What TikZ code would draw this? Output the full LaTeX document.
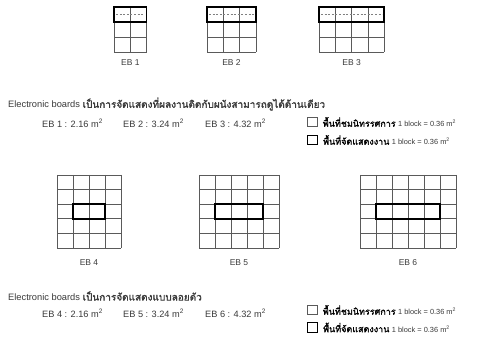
\documentclass[tikz,border=0pt]{standalone}
\usepackage{fontspec}
\setmainfont{Liberation Sans}
\newfontfamily\thaifont[Script=Thai,FakeBold=1.6]{Loma}
\definecolor{latin}{HTML}{3A3A3A}
\definecolor{gridc}{HTML}{5A5A5A}
\newcommand\drawebgrid[6]{%
  \foreach \i in {0,...,#3} \draw[gridline] ({#1+\i*#5},#2) -- ({#1+\i*#5},{#2+#4*#6});
  \foreach \j in {0,...,#4} \draw[gridline] (#1,{#2+\j*#6}) -- ({#1+#3*#5},{#2+\j*#6});
}
\tikzset{
  gridline/.style={draw=gridc, line width=0.7pt},
  thickbox/.style={draw=black, line width=1.5pt},
  dashline/.style={draw=gray, line width=0.7pt, dash pattern=on 2pt off 1.6pt},
  lbl/.style={inner sep=0pt, text=latin, font=\fontsize{8.5}{10}\selectfont},
  txt/.style={inner sep=0pt, anchor=west, text=latin, font=\fontsize{9.3}{11}\selectfont},
  eb/.style={inner sep=0pt, anchor=west, text=latin, font=\fontsize{9.2}{10}\selectfont},
  leg/.style={inner sep=0pt, anchor=west, text=black, font=\fontsize{9}{10}\selectfont},
  chk/.style={draw=gridc, line width=0.7pt, minimum width=9.5pt, minimum height=9.5pt, inner sep=0pt},
  chkthick/.style={draw=black, line width=1.4pt, minimum width=9.5pt, minimum height=9.5pt, inner sep=0pt},
}
\newcommand\thaib[1]{{\thaifont #1}}
\newcommand\thait[1]{{\fontsize{10}{11}\selectfont\thaifont #1}}
\newcommand\legsmall[1]{{\fontsize{7.4}{8}\selectfont\color{latin}#1}}
\begin{document}
\begin{tikzpicture}[x=1pt,y=-1pt]
\useasboundingbox[fill=white] (0,0) rectangle (484,339);
% ---- top grids (3 rows) ----
\drawebgrid{114}{7}{2}{3}{16.3}{15}
\drawebgrid{207}{7}{3}{3}{16.3}{15}
\drawebgrid{319}{7}{4}{3}{16.3}{15}
\draw[dashline] (116,14.5) -- (144.6,14.5);
\draw[dashline] (209,14.5) -- (253.9,14.5);
\draw[dashline] (321,14.5) -- (382.2,14.5);
\draw[thickbox] (114,7) rectangle (146.6,22);
\draw[thickbox] (207,7) rectangle (255.9,22);
\draw[thickbox] (319,7) rectangle (384.2,22);
\node[lbl] (eb1) at (130.3,63) {EB 1};
\node[lbl] (eb2) at (231.5,63) {EB 2};
\node[lbl] (eb3) at (351.6,63) {EB 3};
% ---- section 1 text ----
\node[txt] (t1) at (8,104) {Electronic boards \thait{เป็นการจัดแสดงที่ผลงานติดกับผนังสามารถดูได้ด้านเดียว}};
\node[eb] (a1) at (42,123) {EB 1 : 2.16 m\textsuperscript{2}};
\node[eb] (a2) at (123,123) {EB 2 : 3.24 m\textsuperscript{2}};
\node[eb] (a3) at (205,123) {EB 3 : 4.32 m\textsuperscript{2}};
\node[chk] (c1) at (312.5,122) {};
\node[leg] (l1) at (c1.east) {\hspace*{5pt}\thaib{พื้นที่ชมนิทรรศการ} \legsmall{1 block = 0.36 m\textsuperscript{2}}};
\node[chkthick] (c2) at (312.5,140) {};
\node[leg] (l2) at (c2.east) {\hspace*{5pt}\thaib{พื้นที่จัดแสดงงาน} \legsmall{1 block = 0.36 m\textsuperscript{2}}};
% ---- bottom grids (5 rows) ----
\drawebgrid{57}{175}{4}{5}{16}{14.6}
\drawebgrid{199}{175}{5}{5}{16}{14.6}
\drawebgrid{360}{175}{6}{5}{16}{14.6}
\draw[thickbox] (73,204.2) rectangle (105,218.8);
\draw[thickbox] (215,204.2) rectangle (263,218.8);
\draw[thickbox] (376,204.2) rectangle (440,218.8);
\node[lbl] (eb4) at (89,263) {EB 4};
\node[lbl] (eb5) at (239,263) {EB 5};
\node[lbl] (eb6) at (408,263) {EB 6};
% ---- section 2 text ----
\node[txt] (t2) at (8,296) {Electronic boards \thait{เป็นการจัดแสดงแบบลอยตัว}};
\node[eb] (b1) at (42,313) {EB 4 : 2.16 m\textsuperscript{2}};
\node[eb] (b2) at (123,313) {EB 5 : 3.24 m\textsuperscript{2}};
\node[eb] (b3) at (205,313) {EB 6 : 4.32 m\textsuperscript{2}};
\node[chk] (c3) at (312.5,310) {};
\node[leg] (l3) at (c3.east) {\hspace*{5pt}\thaib{พื้นที่ชมนิทรรศการ} \legsmall{1 block = 0.36 m\textsuperscript{2}}};
\node[chkthick] (c4) at (312.5,327.5) {};
\node[leg] (l4) at (c4.east) {\hspace*{5pt}\thaib{พื้นที่จัดแสดงงาน} \legsmall{1 block = 0.36 m\textsuperscript{2}}};
\end{tikzpicture}
\end{document}
